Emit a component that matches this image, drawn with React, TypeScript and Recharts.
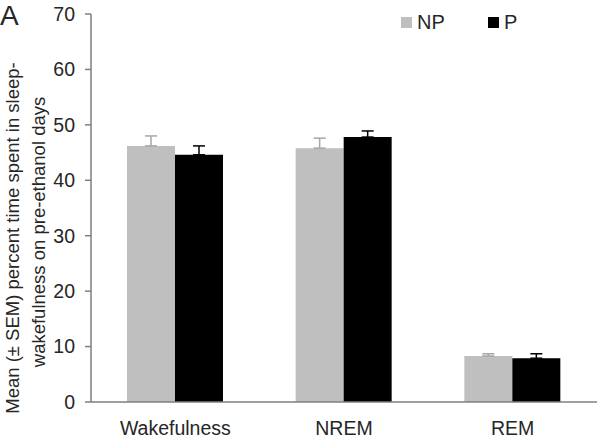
import React from 'react';
import { BarChart, Bar, XAxis, YAxis, ErrorBar } from 'recharts';

const categories = ['Wakefulness', 'NREM', 'REM'];
const npMeans = [46.2, 45.8, 8.3];
const pMeans = [44.6, 47.8, 7.9];
const npSem = [1.8, 1.8, 0.4];
const pSem = [1.6, 1.1, 0.8];
const yTicks = [0, 10, 20, 30, 40, 50, 60, 70];

// only the upper half of the error bar is drawn in the figure
const data = categories.map((name, i) => ({
  name,
  NP: npMeans[i],
  P: pMeans[i],
  npErr: [0, npSem[i]],
  pErr: [0, pSem[i]],
}));

const FONT = '"Liberation Sans", Arial, sans-serif';
const TEXT = '#262626';

const legendItems = [
  { label: 'NP', color: '#bfbfbf', left: 401 },
  { label: 'P', color: '#000', left: 488 },
];

export default function App() {
  return (
    <div style={{ position: 'absolute', left: 0, top: 0, width: 600, height: 440, background: '#fff' }}>
      <BarChart
        width={600}
        height={440}
        data={data}
        margin={{ top: 14, right: 3, bottom: 0, left: 0 }}
        barGap={0}
        barSize={48}
      >
        <XAxis
          dataKey="name"
          height={38}
          tickLine={false}
          tickSize={6}
          tickMargin={13}
          axisLine={{ stroke: '#7f7f7f', strokeWidth: 1.5 }}
          tick={{ fill: TEXT, fontSize: 19.5, fontFamily: FONT }}
        />
        <YAxis
          width={91}
          domain={[0, 70]}
          ticks={yTicks}
          interval={0}
          tickSize={6}
          tickMargin={10}
          axisLine={{ stroke: '#7f7f7f', strokeWidth: 1.5 }}
          tickLine={{ stroke: '#7f7f7f', strokeWidth: 1.5 }}
          tick={{ fill: TEXT, fontSize: 19.5, fontFamily: FONT }}
        />
        <Bar dataKey="NP" fill="#bfbfbf" isAnimationActive={false}>
          <ErrorBar dataKey="npErr" width={6} stroke="#a6a6a6" strokeWidth={1.5} direction="y" />
        </Bar>
        <Bar dataKey="P" fill="#000" isAnimationActive={false}>
          <ErrorBar dataKey="pErr" width={6} stroke="#000" strokeWidth={1.5} direction="y" />
        </Bar>
      </BarChart>
      <svg width={60} height={440} style={{ position: 'absolute', left: 0, top: 0 }}>
        <text x={0} y={25} fill={TEXT} fontSize={28} fontFamily={FONT}>A</text>
        <g transform="rotate(-90)">
          <text x={-238} y={19} fill={TEXT} fontSize={18.5} fontFamily={FONT} textAnchor="middle">
            Mean (± SEM) percent time spent in sleep-
          </text>
          <text x={-232} y={45} fill={TEXT} fontSize={18.5} fontFamily={FONT} textAnchor="middle">
            wakefulness on pre-ethanol days
          </text>
        </g>
      </svg>
      {legendItems.map((it) => (
        <div
          key={it.label}
          style={{
            position: 'absolute',
            left: it.left,
            top: 11,
            display: 'flex',
            alignItems: 'center',
            fontFamily: FONT,
            fontSize: 20,
            color: TEXT,
          }}
        >
          <span style={{ width: 11, height: 11, background: it.color, marginRight: 5, display: 'inline-block' }} />
          <span>{it.label}</span>
        </div>
      ))}
    </div>
  );
}
